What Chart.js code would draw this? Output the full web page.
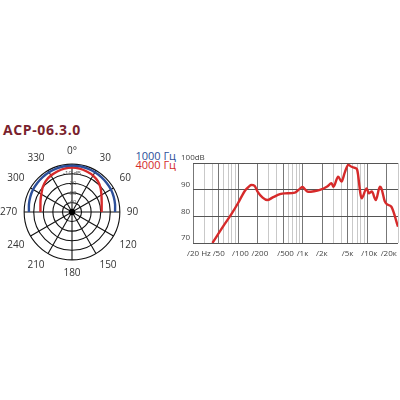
<!DOCTYPE html>
<html>
<head>
<meta charset="utf-8">
<script src="https://cdn.jsdelivr.net/npm/chart.js@4/dist/chart.umd.min.js"></script>
<style>
  body { margin: 0; background: #fff; width: 400px; height: 400px; position: relative; overflow: hidden; font-family: "Open Sans", sans-serif; }
  #title { position: absolute; left: 3px; top: 120px; font: bold 14px "Open Sans", sans-serif; color: #7a1f2e; letter-spacing: 0.6px; }
  #legend { position: absolute; left: 126px; top: 151px; width: 50px; text-align: right; font: 11px "Open Sans", sans-serif; line-height: 9px; }
  #polarBox { position: absolute; left: -2px; top: 141px; width: 144px; height: 142px; }
  #freqBox { position: absolute; left: 181px; top: 148px; width: 223px; height: 125px; }
</style>
</head>
<body>
<div id="title">ACP-06.3.0</div>
<div id="legend"><span style="color:#2c4f9a">1000 Гц</span><br><span style="color:#d42a2a">4000 Гц</span></div>
<div id="polarBox"><canvas id="polar"></canvas></div>
<div id="freqBox"><canvas id="freq"></canvas></div>
<script>
// polar pattern, 10 degree steps, 0 at top, clockwise
const angles = [0, 10, 20, 30, 40, 50, 60, 70, 80, 90, 100, 110, 120, 130, 140, 150, 160, 170,
  180, 190, 200, 210, 220, 230, 240, 250, 260, 270, 280, 290, 300, 310, 320, 330, 340, 350];
const blue1000 = [-1.5, -1.5, -1.7, -2, -2.3, -2.7, -3, -3.6, -4.3, -5,
  null, null, null, null, null, null, null, null, null, null, null, null, null, null, null, null, null,
  -5, -4.3, -3.6, -3, -2.7, -2.3, -2, -1.7, -1.5];
const red4000 = [-3.5, -4, -5, -6, -8, -11, -14.5, -17, -18.5, -19,
  null, null, null, null, null, null, null, null, null, null, null, null, null, null, null, null, null,
  -17, -16.5, -15, -13, -10, -7.5, -6, -5, -4];
const dbRings = [-50, -40, -30, -20, -10, 0];

// frequency response
const freqHz = [40, 60, 80, 100, 130, 150, 160, 180, 200, 240, 282, 350, 445, 530, 760, 900, 1000,
  1080, 1210, 1500, 1850, 2400, 2800, 3000, 3550, 4000, 4500, 5070, 5700, 6670, 7000, 8200, 9800,
  10600, 11800, 13600, 15700, 16600, 18800, 21000, 23700, 30000];
const levelDb = [70, 76.6, 81.1, 85, 89.9, 91.3, 91.8, 91.4, 89.3, 87, 86.1, 87.2, 88.3, 88.6, 88.9,
  90.3, 91, 90.2, 89.2, 89.4, 89.9, 91.2, 92.4, 91.1, 94.9, 93, 96.5, 99.3, 98.6, 98, 97.4, 86.8, 90.5,
  88.6, 89.3, 86.1, 91.1, 90.5, 85.5, 84.3, 83.6, 76.1];
const gridFreqs = [20, 30, 40, 50, 60, 70, 80, 90, 100, 200, 300, 400, 500, 600, 700, 800, 900,
  1000, 2000, 3000, 4000, 5000, 6000, 7000, 8000, 9000, 10000, 20000, 30000];
const freqLabels = { 20: '20 Hz', 50: '50', 100: '100', 200: '200', 500: '500', 1000: '1к',
  2000: '2к', 5000: '5к', 10000: '10к', 20000: '20к' };
const dbTicks = [70, 80, 90, 100];

const centerDot = {
  id: 'centerDot',
  afterDatasetsDraw(chart) {
    const s = chart.scales.r, ctx = chart.ctx;
    ctx.save();
    ctx.fillStyle = '#000';
    ctx.beginPath();
    ctx.arc(s.xCenter, s.yCenter, 3.2, 0, Math.PI * 2);
    ctx.fill();
    ctx.restore();
  }
};

new Chart(document.getElementById('polar'), {
  type: 'radar',
  data: {
    labels: angles,
    datasets: [
      { label: '1000 Гц', data: blue1000, borderColor: '#2c4f9a', borderWidth: 2.4, pointRadius: 0, fill: false, spanGaps: false, tension: 0.2 },
      { label: '4000 Гц', data: red4000, borderColor: '#d62a2a', borderWidth: 2.4, pointRadius: 0, fill: false, spanGaps: false, tension: 0.2 }
    ]
  },
  options: {
    responsive: true,
    maintainAspectRatio: false,
    animation: false,
    plugins: { legend: { display: false }, tooltip: { enabled: false } },
    scales: {
      r: {
        min: dbRings[0],
        max: dbRings[dbRings.length - 1],
        ticks: {
          stepSize: 10,
          showLabelBackdrop: false,
          color: '#555',
          font: { size: 6, family: 'Open Sans' },
          callback: v => (v === -50 || v === 0) ? '' : (v === -10 ? '-10 dB' : String(v))
        },
        grid: { circular: true, color: '#111', lineWidth: 1.1 },
        angleLines: {
          color: ctx => (angles[ctx.index] % 30 === 0 ? '#111' : 'rgba(0,0,0,0)'),
          lineWidth: 1.1
        },
        pointLabels: {
          padding: 2,
          color: '#333',
          font: { size: 10, family: 'Open Sans' },
          callback: (l) => (l % 30 === 0 ? (l === 0 ? '0°' : String(l)) : '')
        }
      }
    }
  },
  plugins: [centerDot]
});

new Chart(document.getElementById('freq'), {
  type: 'line',
  data: {
    datasets: [{
      data: freqHz.map((f, i) => ({ x: f, y: levelDb[i] })),
      borderColor: '#d62a2a',
      borderWidth: 2.4,
      pointRadius: 0,
      cubicInterpolationMode: 'monotone'
    }]
  },
  options: {
    responsive: true,
    maintainAspectRatio: false,
    animation: false,
    layout: { padding: { top: 15, right: 0, left: 12, bottom: 0 } },
    plugins: { legend: { display: false }, tooltip: { enabled: false } },
    scales: {
      x: {
        type: 'logarithmic',
        min: 20,
        max: 30000,
        afterBuildTicks: s => { s.ticks = gridFreqs.map(v => ({ value: v })); },
        afterFit: s => { s.height = 30; },
        border: { display: false },
        grid: {
          drawTicks: false,
          color: c => (freqLabels[c.tick && c.tick.value] ? '#777' : '#c9c9c9'),
          lineWidth: 1
        },
        ticks: {
          autoSkip: false,
          maxRotation: 0,
          align: 'start',
          labelOffset: -6,
          padding: 6,
          color: '#444',
          font: { size: 8, family: 'Open Sans' },
          callback: v => (freqLabels[v] ? '/' + freqLabels[v] : '')
        }
      },
      y: {
        min: dbTicks[0],
        max: dbTicks[dbTicks.length - 1],
        afterBuildTicks: s => { s.ticks = dbTicks.map(v => ({ value: v })); },
        afterFit: s => { s.width = 0; },
        border: { display: false },
        grid: { drawTicks: false, color: '#555', lineWidth: 1 },
        ticks: {
          mirror: true,
          crossAlign: 'near',
          padding: -12,
          labelOffset: -5,
          color: '#444',
          font: { size: 8, family: 'Open Sans' },
          callback: v => (v === 100 ? '100dB' : String(v))
        }
      }
    }
  }
});
</script>
</body>
</html>
